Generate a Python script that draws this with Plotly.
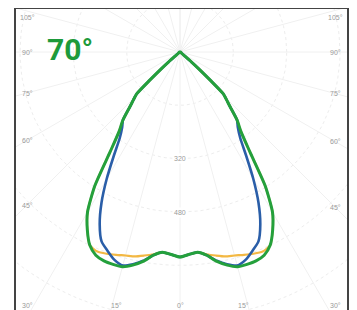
import math
import plotly.graph_objects as go

# ---- data (half-plane, symmetric luminaire), angle from nadir in degrees, intensity in cd ----
angles = [0, 2.5, 5, 7.5, 10, 12.5, 15, 17.5, 20, 22.5, 25, 27.5, 30, 32.5, 35,
          37.5, 40, 42.5, 45, 46, 47, 48, 49, 50, 52, 60, 75, 90]
green_cd = [615, 608, 603, 615, 638, 655, 667, 668, 667, 660, 640, 602, 555, 475, 365,
            300, 266, 222, 192, 180, 125, 80, 45, 18, 7, 4, 2, 0]
blue_cd = [615, 608, 603, 615, 636, 652, 663, 654, 635, 615, 570, 510, 440, 370, 315,
           285, 266, 222, 192, 180, 125, 80, 45, 18, 7, 4, 2, 0]
yellow_cd = [615, 608, 603, 612, 620, 628, 632, 638, 644, 648, 640, 602, 555, 475, 365,
             300, 266, 222, 192, 180, 125, 80, 45, 18, 7, 4, 2, 0]

ring_values = [160, 320, 480, 640, 800, 960, 1120]
ring_labels = [320, 480]
edge_angles = [105, 90, 75, 60, 45, 30]
bottom_angles = [-15, 0, 15]
beam_label = "70°"

# ---- geometry helpers ----
def full_curve(vals):
    th = [-a for a in reversed(angles[1:])] + angles
    iv = list(reversed(vals[1:])) + vals
    xs = [v * math.sin(math.radians(t)) for t, v in zip(th, iv)]
    ys = [-v * math.cos(math.radians(t)) for t, v in zip(th, iv)]
    return xs, ys

X0, X1 = -492, 501
Y0, Y1 = -774, 129

fig = go.Figure()

# rings
for r in ring_values:
    t = [i * 2 for i in range(181)]
    fig.add_trace(go.Scatter(
        x=[r * math.cos(math.radians(a)) for a in t],
        y=[r * math.sin(math.radians(a)) for a in t],
        mode="lines", line=dict(color="#ededed", width=1, dash="dot"),
        hoverinfo="skip", showlegend=False))

# radial spokes every 15 degrees
for a in range(-180, 181, 15):
    R = 3000
    fig.add_trace(go.Scatter(
        x=[0, R * math.sin(math.radians(a))],
        y=[0, -R * math.cos(math.radians(a))],
        mode="lines", line=dict(color="#f0f0f0", width=1),
        hoverinfo="skip", showlegend=False))

# curves
for vals, col, w in [(yellow_cd, "#f3b843", 2.2), (blue_cd, "#2a5ea8", 2.6), (green_cd, "#24a03c", 3)]:
    xs, ys = full_curve(vals)
    fig.add_trace(go.Scatter(x=xs, y=ys, mode="lines",
                             line=dict(color=col, width=w, shape="spline", smoothing=0.6),
                             hoverinfo="skip", showlegend=False))

# edge angle labels
lab_font = dict(family="Liberation Sans Narrow, Arial Narrow, Liberation Sans, sans-serif",
                size=7, color="#9a9a9a")
XL, XR, YT, YB = -459, 465, 105, -760

def edge_label(theta, side):
    s = math.sin(math.radians(theta))
    c = math.cos(math.radians(theta))
    xe = XL if side < 0 else XR
    tpar = abs(xe) / abs(s)
    y = -c * tpar
    y = max(min(y, YT), YB)
    return xe, y

for a in edge_angles:
    for side in (-1, 1):
        x, y = edge_label(a, side)
        fig.add_annotation(x=x, y=y, text=f"{a}°", showarrow=False, font=lab_font,
                           xanchor="center", yanchor="middle")
for a in bottom_angles:
    x = -YB * math.tan(math.radians(a)) * 0.93
    fig.add_annotation(x=x, y=YB, text=f"{abs(a)}°", showarrow=False, font=lab_font,
                       xanchor="center", yanchor="middle")

for v in ring_labels:
    fig.add_annotation(x=0, y=-v, text=str(v), showarrow=False, font=lab_font,
                       bgcolor="white", xanchor="center", yanchor="middle")

# beam angle title
fig.add_annotation(x=(45 - 180) * 3, y=(52 - 49) * 3, text=beam_label, showarrow=False,
                   font=dict(family="Roboto, sans-serif", size=30, color="#1d9a3a",
                             weight="bold"),
                   xanchor="left", yanchor="middle")

# the page body adds an 8px offset; size the figure so the plot lands where the reference has it
fig.update_layout(
    width=349, height=302,
    margin=dict(l=8, r=10, t=1, b=0),
    paper_bgcolor="white", plot_bgcolor="white",
    xaxis=dict(range=[X0, X1], showgrid=False, zeroline=False, showticklabels=False,
               ticks="", side="top", showline=True, linecolor="#444", linewidth=1.5),
    yaxis=dict(range=[Y0, Y1], showgrid=False, zeroline=False, showticklabels=False,
               ticks="", showline=True, mirror=True, linecolor="#444", linewidth=2),
)

fig.write_html("out.html")
